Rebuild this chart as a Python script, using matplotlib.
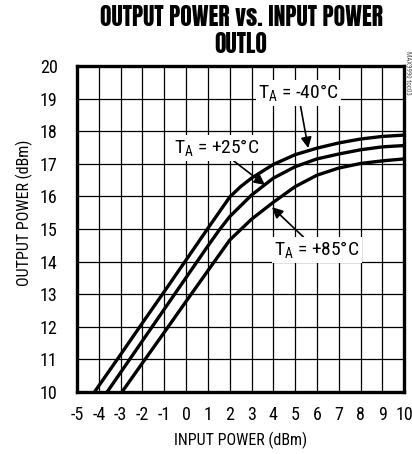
import matplotlib
matplotlib.use('Agg')
import matplotlib.pyplot as plt
from matplotlib import font_manager

# curves
x_m40 = [-4.2, -3, -2, -1, 0, 1, 2, 2.5, 3, 4, 5, 6, 7, 8, 9, 10]
y_m40 = [10, 11.15, 12.12, 13.08, 14.05, 15.02, 15.98, 16.3, 16.56, 16.98, 17.28, 17.48, 17.64, 17.76, 17.84, 17.88]

x_25 = [-3.62, -3, -2, -1, 0, 1, 1.5, 2, 3, 4, 5, 6, 7, 8, 9, 10]
y_25 = [10, 10.6, 11.57, 12.54, 13.51, 14.48, 14.95, 15.38, 16.04, 16.56, 16.91, 17.15, 17.3, 17.43, 17.52, 17.56]

x_85 = [-2.94, -2, -1, 0, 1, 2, 3, 4, 5, 6, 7, 8, 9, 10]
y_85 = [10, 10.89, 11.83, 12.78, 13.72, 14.66, 15.3, 15.82, 16.3, 16.65, 16.87, 17.01, 17.09, 17.15]

x_ticks = list(range(-5, 11))
y_ticks = list(range(10, 21))

names = {f.name for f in font_manager.fontManager.ttflist}


def pick(cands):
    for c in cands:
        if c in names:
            return c
    return 'DejaVu Sans'


body = pick(['Roboto Condensed', 'Archivo Narrow', 'PT Sans Narrow', 'Liberation Sans Narrow',
             'Pragati Narrow', 'Encode Sans Condensed', 'Fira Sans Condensed', 'IBM Plex Sans Condensed',
             'Open Sans Condensed', 'Asap Condensed', 'Barlow Condensed', 'Sofia Sans Condensed'])
heavy = pick(['Anton', 'Oswald', 'Fjalla One', 'Roboto Condensed', 'Archivo Narrow', 'PT Sans Narrow'])

plt.rcParams['font.family'] = [body, 'DejaVu Sans']
plt.rcParams['axes.unicode_minus'] = False
plt.rcParams['mathtext.fontset'] = 'custom'
plt.rcParams['mathtext.rm'] = body

fig = plt.figure(figsize=(4.12, 4.54), dpi=100)
ax = fig.add_axes([0.187, 0.1366, 0.794, 0.718])

for xs, ys in [(x_m40, y_m40), (x_25, y_25), (x_85, y_85)]:
    ax.plot(xs, ys, color='black', lw=2.4, solid_capstyle='butt', zorder=3)

ax.set_xlim(-5, 10)
ax.set_ylim(10, 20)
ax.set_xticks(x_ticks)
ax.set_yticks(y_ticks)
ax.grid(True, color='black', lw=0.9)
ax.tick_params(length=0, labelsize=13)
ax.tick_params(axis='x', pad=10)
ax.tick_params(axis='y', pad=14)
for s in ax.spines.values():
    s.set_linewidth(2.4)

ax.set_xlabel('INPUT POWER (dBm)', fontsize=11.5, labelpad=6)
ax.set_ylabel('OUTPUT POWER (dBm)', fontsize=11.5)
ax.yaxis.set_label_coords(-0.135, 0.55)

fig.text(0.585, 0.933, 'OUTPUT POWER vs. INPUT POWER\nOUTLO', ha='center', va='center',
         fontsize=17, fontweight='bold', linespacing=1.12, family=[heavy, 'DejaVu Sans'])

box = dict(facecolor='white', edgecolor='none', pad=1.5)
arrow = dict(arrowstyle='-|>', color='black', lw=1.2, mutation_scale=16, shrinkA=0, shrinkB=0)
ax.annotate(r'T$_\mathregular{A}$ = -40°C', xy=(5.6, 17.48), xytext=(5.14, 19.17),
            ha='center', va='center', fontsize=14, bbox=box, arrowprops=arrow)
ax.annotate(r'T$_\mathregular{A}$ = +25°C', xy=(3.62, 16.35), xytext=(1.42, 17.48),
            ha='center', va='center', fontsize=14, bbox=box, arrowprops=arrow)
ax.annotate(r'T$_\mathregular{A}$ = +85°C', xy=(3.94, 15.67), xytext=(6.0, 14.36),
            ha='center', va='center', fontsize=14, bbox=box, arrowprops=arrow)

fig.text(0.988, 0.84, 'MAX9990 toc03', rotation=270, fontsize=5, color='#555555',
         ha='center', va='center')

fig.savefig('out.png', dpi=100)
